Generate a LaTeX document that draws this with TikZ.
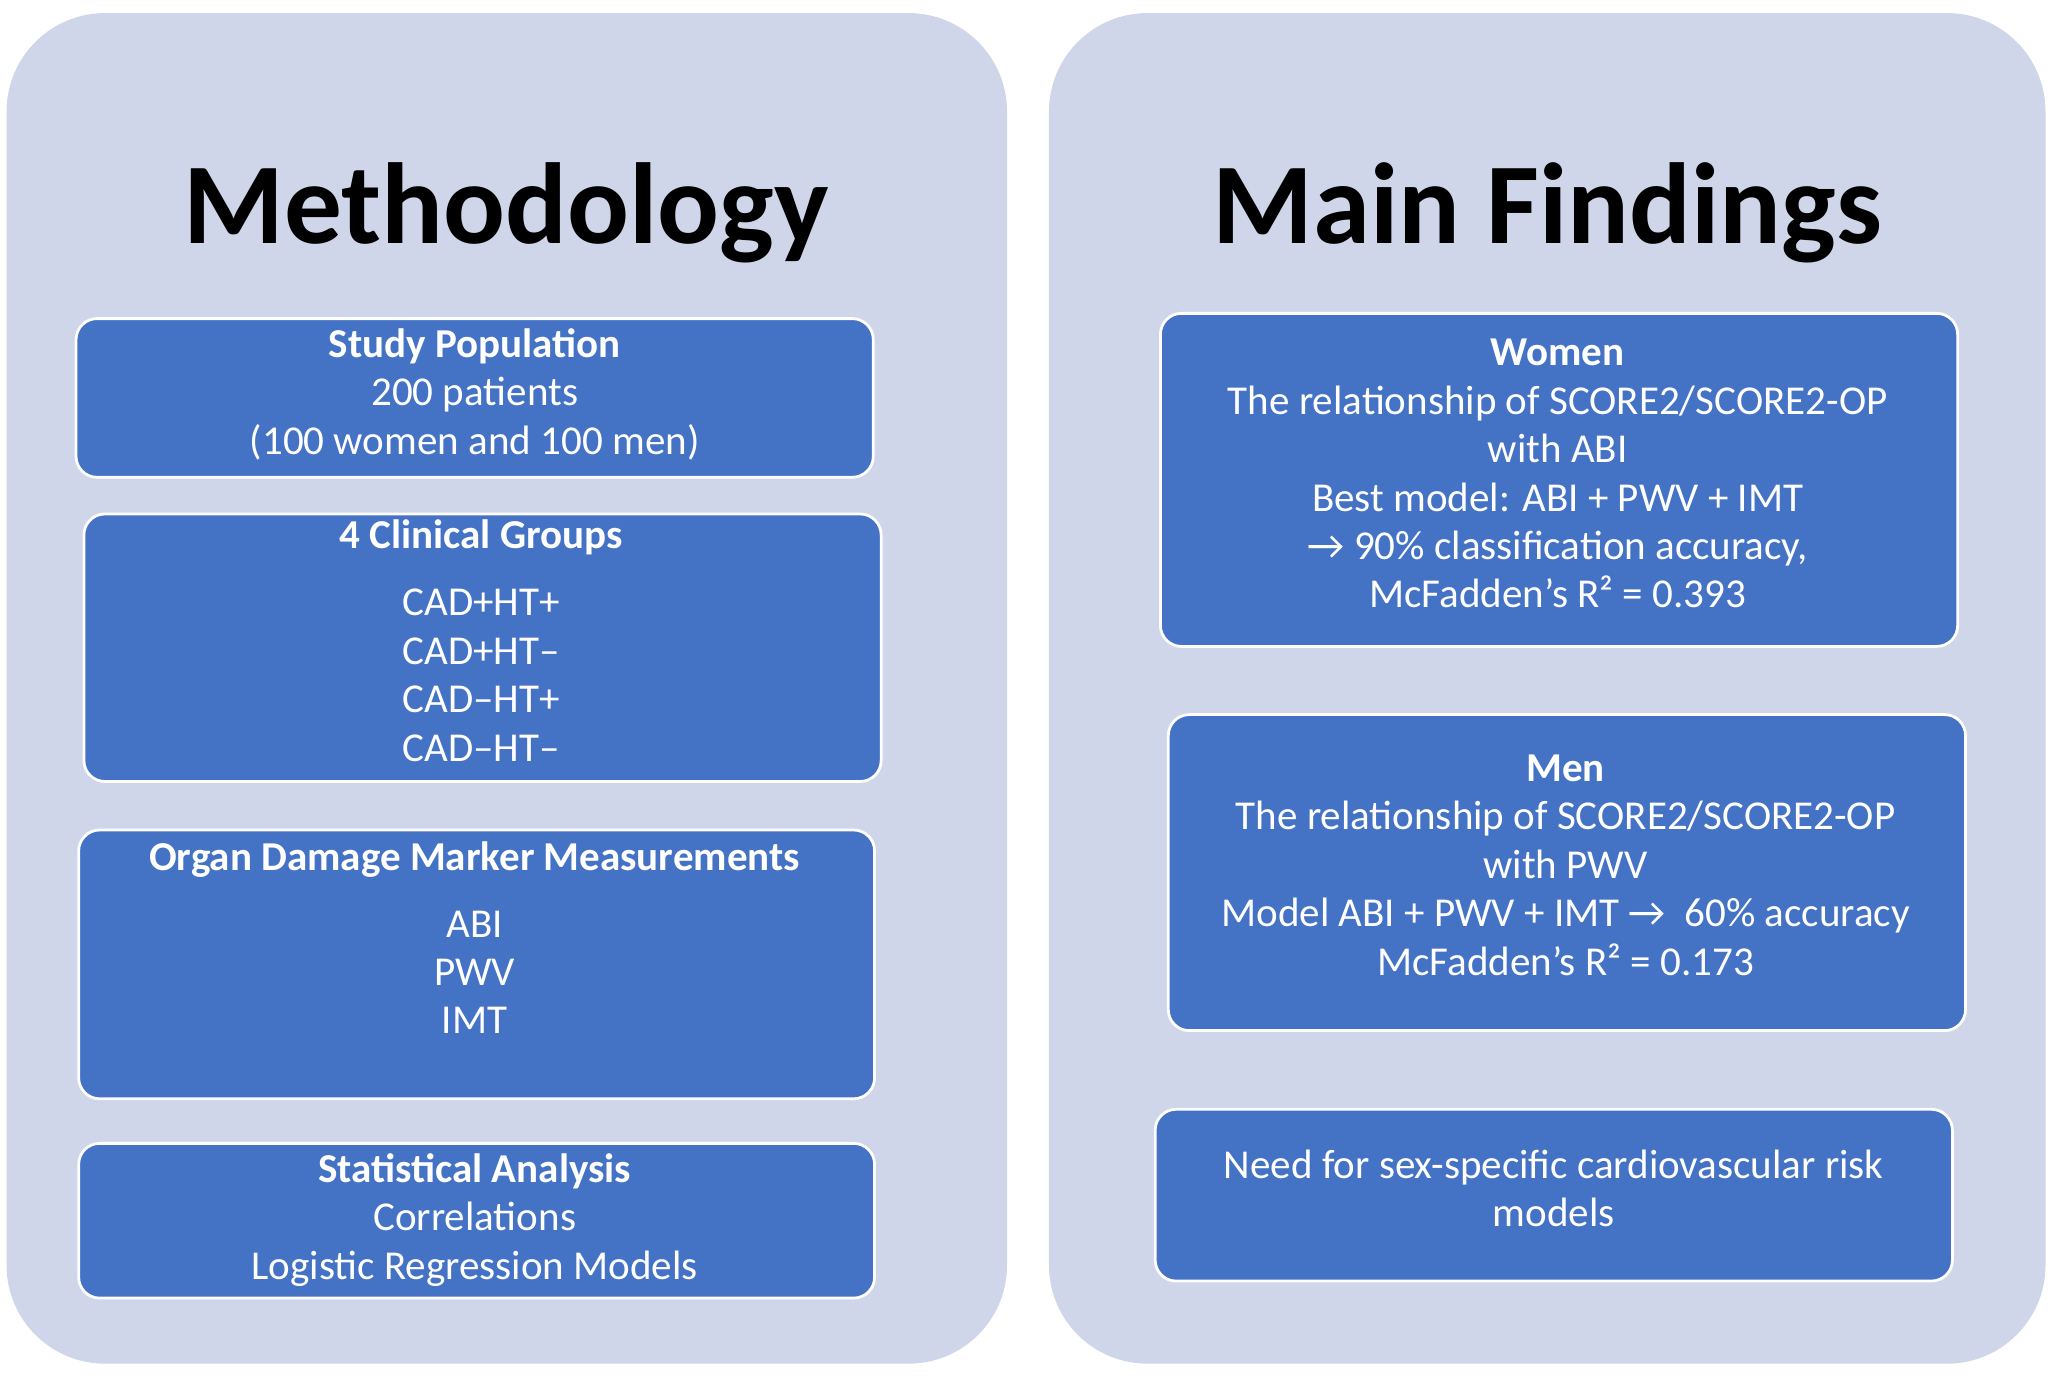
\documentclass[tikz,border=0pt]{standalone}
\usepackage{fontspec}
\setmainfont{Carlito}
\usepackage{xcolor}
\definecolor{panelbg}{HTML}{D0D6EA}
\definecolor{boxblue}{HTML}{4472C4}
\tikzset{
  panel/.style={fill=panelbg, draw=none, rounded corners=0.75cm},
  box/.style={fill=boxblue, draw=white, line width=0.6pt, rounded corners=0.16cm},
  title/.style={font=\bfseries\fontsize{25}{30}\selectfont, text=black},
  boxtext/.style={text=white, align=center, anchor=north, inner sep=0pt,
    font=\fontsize{8.9}{10.5}\selectfont}
}
\begin{document}
\begin{tikzpicture}[x=0.01cm, y=-0.01cm]
    % frame
    \useasboundingbox (0,0) rectangle (1568,1052);

    % panels
    \draw[panel] (5,10) rectangle (768,1040);
    \draw[panel] (800,10) rectangle (1560,1040);
    \node[title] (methodology) at (386,162) {Methodology};
    \node[title] (findings) at (1180,162) {Main Findings};

    % methodology boxes
    \draw[box] (58,243) rectangle (666,364);
    \node[boxtext] (population) at (362,250) {\textbf{Study Population}\\200 patients\\(100 women and 100 men)};
    \draw[box] (64,392) rectangle (672,596);
    \node[boxtext] (groups) at (367,396) {\textbf{4 Clinical Groups}\\[4pt]CAD+HT+\\CAD+HT–\\CAD–HT+\\CAD–HT–};
    \draw[box] (60,633) rectangle (667,838);
    \node[boxtext] (markers) at (362,641) {\textbf{Organ Damage Marker Measurements}\\[4pt]ABI\\PWV\\IMT};
    \draw[box] (60,872) rectangle (667,990);
    \node[boxtext] (statistics) at (362,879) {\textbf{Statistical Analysis}\\Correlations\\Logistic Regression Models};

    % findings boxes
    \draw[box] (885,239) rectangle (1493,493);
    \node[boxtext] (women) at (1188,258) {\textbf{Women}\\The relationship of SCORE2/SCORE2-OP\\with ABI\\Best model: ABI + PWV + IMT\\→ 90\% classification accuracy,\\McFadden’s R² = 0.393};
    \draw[box] (891,545) rectangle (1499,786);
    \node[boxtext] (men) at (1194,575) {\textbf{Men}\\The relationship of SCORE2/SCORE2-OP\\with PWV\\Model ABI + PWV + IMT →\ \ 60\% accuracy\\McFadden’s R² = 0.173};
    \draw[box] (881,846) rectangle (1489,977);
    \node[boxtext] (need) at (1185,876) {Need for sex-specific cardiovascular risk\\models};
\end{tikzpicture}
\end{document}
